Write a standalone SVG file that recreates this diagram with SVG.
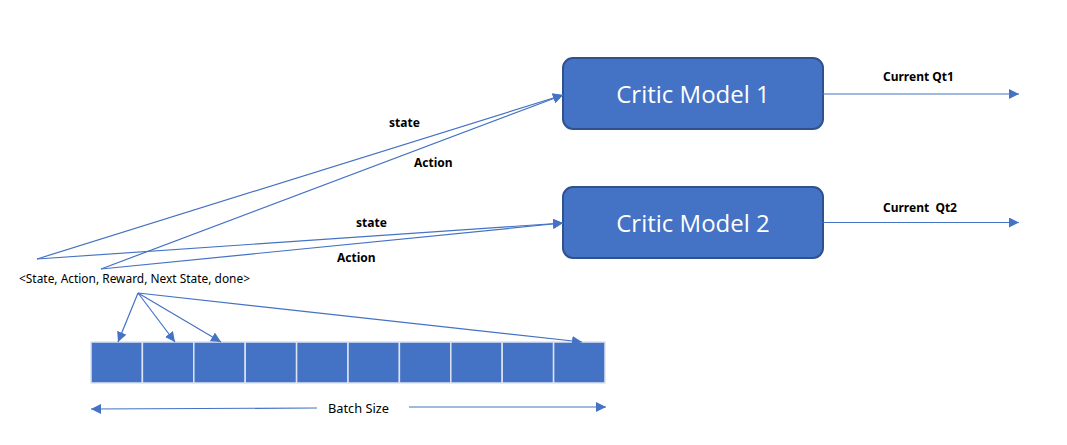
<svg xmlns="http://www.w3.org/2000/svg" width="1067" height="445" viewBox="0 0 1067 445">
<style>
.ln{stroke:#4472C4;stroke-width:1.2;fill:none}
.box{fill:#4472C4;stroke:#2F528F;stroke-width:2}
.cell{fill:#4472C4;stroke:#DCE3F2;stroke-width:1.5}
.title{font-family:"Open Sans","Noto Sans",sans-serif;font-size:24px;fill:#FFFFFF;text-anchor:middle}
.lbl{font-family:"Noto Sans","Open Sans",sans-serif;font-size:12px;font-weight:bold;fill:#000}
.txt{font-family:"Noto Sans","Open Sans",sans-serif;font-size:12px;fill:#000}
</style>
<defs>
<marker id="ah" viewBox="0 0 10 10" refX="10" refY="5" markerWidth="10" markerHeight="10" markerUnits="userSpaceOnUse" orient="auto">
<path d="M0,0 L10,5 L0,10 z" fill="#4472C4"/>
</marker>
</defs>
<rect width="1067" height="445" fill="#FFFFFF"/>
<g id="critic1">
<rect class="box" x="563" y="58" width="260" height="71" rx="10"/>
<text class="title" x="693" y="103">Critic Model 1</text>
</g>
<g id="critic2">
<rect class="box" x="563" y="187" width="260" height="71" rx="10"/>
<text class="title" x="693" y="232">Critic Model 2</text>
</g>
<g id="tuple">
<text class="txt" x="19" y="283" textLength="231" lengthAdjust="spacingAndGlyphs">&lt;State, Action, Reward, Next State, done&gt;</text>
</g>
<g id="batch">
<rect class="cell" x="91" y="342" width="51.4" height="41"/>
<rect class="cell" x="142.4" y="342" width="51.4" height="41"/>
<rect class="cell" x="193.8" y="342" width="51.4" height="41"/>
<rect class="cell" x="245.2" y="342" width="51.4" height="41"/>
<rect class="cell" x="296.6" y="342" width="51.4" height="41"/>
<rect class="cell" x="348" y="342" width="51.4" height="41"/>
<rect class="cell" x="399.4" y="342" width="51.4" height="41"/>
<rect class="cell" x="450.8" y="342" width="51.4" height="41"/>
<rect class="cell" x="502.2" y="342" width="51.4" height="41"/>
<rect class="cell" x="553.6" y="342" width="51.4" height="41"/>
<text class="txt" x="328" y="413" textLength="61" lengthAdjust="spacingAndGlyphs">Batch Size</text>
</g>
<g id="connectors">
<line class="ln" x1="37" y1="259" x2="563" y2="95" marker-end="url(#ah)"/>
<line class="ln" x1="101" y1="269" x2="563" y2="95" marker-end="url(#ah)"/>
<line class="ln" x1="37" y1="259" x2="563" y2="223" marker-end="url(#ah)"/>
<line class="ln" x1="101" y1="269" x2="563" y2="223" marker-end="url(#ah)"/>
<line class="ln" x1="823" y1="94" x2="1019" y2="94" marker-end="url(#ah)"/>
<line class="ln" x1="823" y1="222.5" x2="1019" y2="222.5" marker-end="url(#ah)"/>
<line class="ln" x1="138" y1="293" x2="118" y2="342" marker-end="url(#ah)"/>
<line class="ln" x1="138" y1="293" x2="175" y2="342" marker-end="url(#ah)"/>
<line class="ln" x1="138" y1="293" x2="221" y2="342" marker-end="url(#ah)"/>
<line class="ln" x1="138" y1="293" x2="582" y2="342" marker-end="url(#ah)"/>
<line class="ln" x1="317" y1="408" x2="91" y2="409" marker-end="url(#ah)"/>
<line class="ln" x1="409" y1="407" x2="606" y2="407" marker-end="url(#ah)"/>
<text class="lbl" x="389" y="127">state</text>
<text class="lbl" x="414" y="167">Action</text>
<text class="lbl" x="356" y="227">state</text>
<text class="lbl" x="337" y="262">Action</text>
<text class="lbl" x="883" y="81">Current Qt1</text>
<text class="lbl" x="883" y="212" xml:space="preserve">Current  Qt2</text>
</g>
</svg>
